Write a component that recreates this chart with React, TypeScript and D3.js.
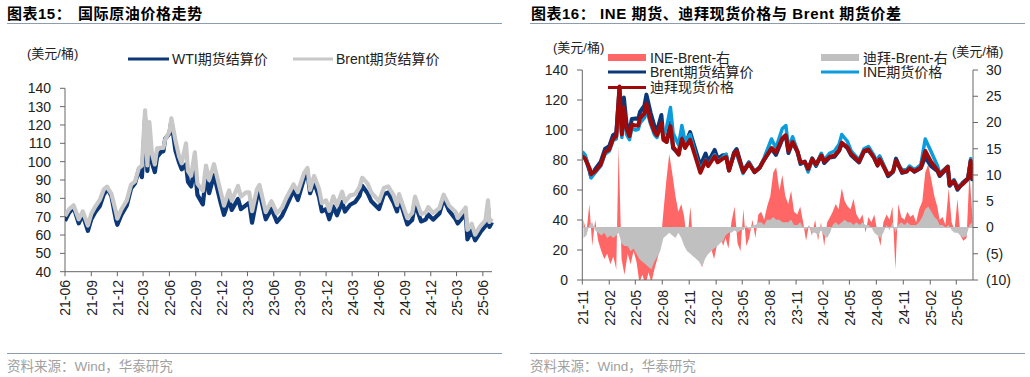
import React from "react";
import * as d3 from "d3";

// ---------- DATA ----------
// Price observation dates (shared by WTI/Brent; INE & Dubai start at 2021-11-01)
const priceDates = [
  "2021-06-01","2021-06-15","2021-07-01","2021-07-19","2021-08-02","2021-08-20","2021-09-01","2021-09-15",
  "2021-10-01","2021-10-15","2021-10-26",
  "2021-11-01","2021-11-10","2021-11-26","2021-12-01","2021-12-15","2022-01-03","2022-01-18","2022-02-01",
  "2022-02-14","2022-02-25","2022-03-08","2022-03-16","2022-03-23","2022-04-01","2022-04-11","2022-04-19",
  "2022-05-02","2022-05-11","2022-05-17","2022-06-01","2022-06-08","2022-06-22","2022-07-05","2022-07-14",
  "2022-07-29","2022-08-05","2022-08-16","2022-08-29","2022-09-07","2022-09-26","2022-10-07","2022-10-18",
  "2022-11-04","2022-11-28","2022-12-09","2022-12-27","2023-01-05","2023-01-27","2023-02-06","2023-02-24",
  "2023-03-07","2023-03-17","2023-04-03","2023-04-12","2023-05-04","2023-05-24","2023-06-12","2023-06-30",
  "2023-07-14","2023-08-09","2023-08-24","2023-09-15","2023-09-27","2023-10-06","2023-10-20","2023-11-06",
  "2023-11-16","2023-12-01","2023-12-12","2023-12-26","2024-01-08","2024-01-26","2024-02-05","2024-02-23",
  "2024-03-11","2024-03-27","2024-04-05","2024-04-24","2024-05-07","2024-06-03","2024-06-20","2024-07-05",
  "2024-07-24","2024-08-05","2024-08-12","2024-09-10","2024-09-27","2024-10-07","2024-10-28","2024-11-13",
  "2024-11-22","2024-12-09","2024-12-31","2025-01-15","2025-02-03","2025-02-26","2025-03-05","2025-04-02",
  "2025-04-08","2025-04-23","2025-05-05","2025-05-23","2025-06-10","2025-06-19","2025-06-24","2025-07-03",
];

const wtiSettle = [
  67.7, 72.1, 75.2, 66.4, 71.3, 62.3, 68.6, 72.6, 75.9, 82.3, 84.6,
  84.1, 81.3, 68.2, 65.6, 70.9, 76.1, 85.4, 88.2, 95.5, 91.6, 123.7, 95.0, 114.9, 99.3, 94.3, 102.6,
  105.2, 105.7, 112.4, 115.3, 122.1, 106.2, 99.5, 95.8, 98.6, 89.0, 86.5, 97.0, 81.9, 76.7, 92.6, 82.8,
  92.6, 77.2, 71.0, 79.5, 73.7, 79.7, 74.1, 76.3, 77.6, 66.7, 80.4, 83.3, 68.6, 74.3, 67.1, 70.6,
  75.4, 84.4, 79.1, 90.8, 93.7, 82.8, 88.8, 80.8, 72.9, 74.1, 68.6, 75.6, 70.8, 78.0, 72.8, 76.5,
  77.9, 81.4, 86.9, 82.8, 78.4, 74.2, 82.2, 83.2, 77.6, 72.9, 80.1, 65.8, 68.2, 77.1, 67.4, 68.4,
  71.2, 68.4, 71.7, 80.0, 73.2, 68.6, 66.3, 71.7, 57.6, 62.3, 57.1, 61.5, 65.0, 75.0, 64.4, 67.0,
];

const brentSettle = [
  70.3, 74.0, 76.2, 68.6, 72.9, 65.2, 71.6, 75.5, 79.3, 84.9, 86.4,
  84.7, 82.6, 72.7, 68.9, 73.9, 78.9, 87.5, 89.2, 96.5, 97.9, 128.0, 98.0, 121.6, 104.4, 98.5, 107.3,
  107.6, 107.5, 112.0, 116.3, 123.6, 111.7, 102.8, 99.1, 110.0, 94.9, 92.3, 105.1, 88.0, 84.1, 97.9, 90.0,
  98.6, 83.2, 76.1, 84.3, 78.7, 86.7, 80.9, 83.2, 83.3, 73.0, 84.9, 87.3, 72.5, 78.4, 71.8, 74.9,
  79.9, 87.6, 83.4, 93.9, 96.6, 84.6, 92.2, 85.2, 77.4, 78.9, 73.2, 81.1, 76.1, 83.6, 78.0, 81.6,
  82.2, 86.1, 91.2, 88.0, 83.2, 78.4, 85.7, 86.5, 81.7, 76.3, 82.3, 69.2, 72.0, 80.9, 71.4, 72.3,
  75.2, 72.1, 74.6, 82.0, 76.0, 72.5, 69.3, 75.0, 62.8, 66.1, 60.2, 64.8, 67.9, 78.9, 67.1, 69.0,
];

// From 2021-11-01 onward (same dates as priceDates from that day)
const ineFutures = [
  85.5, 83.5, 74.0, 68.0, 71.5, 76.0, 84.0, 86.0, 93.0, 94.0, 122.0, 95.0, 112.0, 97.0, 93.5, 101.0,
  100.0, 100.5, 104.5, 108.0, 114.0, 104.0, 97.0, 95.0, 104.0, 96.0, 102.0, 115.0, 98.0, 90.0, 103.0, 92.5,
  97.0, 80.0, 73.5, 80.0, 76.5, 83.5, 79.0, 82.0, 84.0, 73.5, 83.0, 84.0, 71.0, 78.0, 72.5, 75.5,
  81.0, 94.0, 88.0, 101.0, 103.0, 88.0, 95.5, 86.0, 78.5, 78.0, 72.0, 80.0, 76.5, 84.5, 80.0, 84.5,
  86.0, 90.5, 97.0, 92.5, 86.0, 80.0, 87.5, 89.0, 83.0, 78.0, 82.5, 70.5, 72.0, 79.0, 73.5, 73.5,
  76.0, 73.5, 77.0, 94.0, 86.0, 76.0, 71.0, 76.0, 64.5, 67.0, 62.5, 64.0, 67.0, 81.0, 70.0, 70.5,
];

const dubaiSpot = [
  82.5, 81.0, 74.5, 70.5, 72.5, 77.0, 85.5, 87.0, 94.0, 96.0, 129.0, 97.0, 115.0, 101.0, 96.0, 103.5,
  103.0, 103.0, 108.0, 111.0, 117.5, 106.0, 99.0, 96.5, 104.5, 93.5, 92.0, 102.5, 89.0, 83.5, 94.0, 88.0,
  93.5, 78.5, 71.5, 79.5, 76.0, 82.5, 78.5, 81.0, 82.0, 73.0, 84.0, 86.0, 72.0, 77.5, 72.0, 75.0,
  80.0, 88.0, 85.0, 94.5, 96.5, 86.0, 92.0, 85.5, 78.5, 78.5, 74.0, 80.5, 77.0, 83.0, 79.0, 82.0,
  83.0, 86.5, 91.5, 88.5, 84.0, 79.0, 86.0, 87.0, 81.5, 76.5, 80.5, 70.0, 72.5, 79.5, 72.0, 72.5,
  74.5, 72.5, 75.0, 86.0, 79.0, 73.0, 70.0, 75.5, 63.5, 66.0, 61.0, 64.0, 67.5, 79.5, 68.0, 69.5,
];

// Spreads (right axis), sampled on the 5th / 15th / 25th of each month
const spreadMonths = [
  "2021-11","2021-12","2022-01","2022-02","2022-03","2022-04","2022-05","2022-06","2022-07","2022-08","2022-09",
  "2022-10","2022-11","2022-12","2023-01","2023-02","2023-03","2023-04","2023-05","2023-06","2023-07","2023-08",
  "2023-09","2023-10","2023-11","2023-12","2024-01","2024-02","2024-03","2024-04","2024-05","2024-06","2024-07",
  "2024-08","2024-09","2024-10","2024-11","2024-12","2025-01","2025-02","2025-03","2025-04","2025-05","2025-06",
];
const spreadDays = ["05", "15", "25"];

const ineBrentSpread = [
  1.5, -1, 4.5,   -3.5, 1.5, -2.5,   -4.5, -6, -5,   -7, -5.5, -8,   15.5, -6, -9,   -5, -7, -4.5,
  -6.5, -10.5, -9,   -11, -8.5, -10.5,   -8, -6, -4,   3, 9, 14,   10, 6, 3,   4.5, 2, -3,
  4, -3.5, -5,   -6, -7.5, -5.5,   -5, -4, -6,   -3, -1.5, -3.5,   -2, -4, 1,   4, -3, -4.5,
  3.5, -3.5, -2,   1.5, -2, 2.5,   3, 1.5, 4,   6, 10.5, 11.5,   7, 10, 6,   4.5, 7, 3,
  2.5, 4, 1,   -2.5, 0.5, -1.5,   1.5, -2.5, 1,   -3.5, 1, 2,   3, 4.5, 3.5,   7.5, 5, 4,
  3.5, 5.5, 2.5,   1.5, 2.5, -1,   2, 1, 2.5,   -1, -3.5, 1,   2.5, 1.5, 4,   -8, 4.5, 2,
  1.5, 3, 2,   2.5, 1, 3.5,   5, 10.5, 12,   9, 6, 4,   1.5, 2, 0.5,   7.5, 1, -0.5,
  5.5, -1.5, -2.5,   -2, 10.5, 2,
];

const dubaiBrentSpread = [
  -2, -1.5, 0.5,   1, -0.5, -1,   -1.5, -1, -2,   -1.5, -2, -1.5,   -1, -3, -3.5,   -3.5, -4.5, -4,
  -5, -6, -6.5,   -7, -7.5, -8,   -6.5, -5.5, -4.5,   -2, -1.5, -1,   -1.5, -2, -1,   -2, -3.5, -4.5,
  -5, -5.5, -6,   -6.5, -7.5, -6,   -5, -4.5, -4,   -3.5, -3, -2.5,   -1.5, -1, -1,   -0.5, -1, -0.5,
  -0.5, 0.5, -0.5,   0.5, 0.5, 1,   1, 0.5, 1.5,   1.5, 2, 1.5,   1.5, 1, 1,   1, 1.5, 0.5,
  0.5, 1, 0,   -0.5, 0.5, -1,   -1, -1.5, -0.5,   -1.5, -2, -1,   0.5, 1, 0.5,   1, 1.5, 1,
  1, 0.5, 1,   0.5, 1, 0.5,   0.5, 0, -1,   -1.5, -2, -1,   0.5, -0.5, 1,   -1, 0.5, 1,
  0.5, 1, 0.5,   0.5, 0.5, 1,   2, 3.5, 4,   3, 2, 1.5,   0.5, 0.5, 0,   0.5, -0.5, -1,
  -1, -1.5, -2,   -1.5, 0.5, 1,
];

const leftYTicks = [40, 50, 60, 70, 80, 90, 100, 110, 120, 130, 140];
const rightYTicks = [0, 20, 40, 60, 80, 100, 120, 140];
const spreadTicks = [-10, -5, 0, 5, 10, 15, 20, 25, 30];

// ---------- STYLE ----------
const FONT = '"Liberation Sans", Arial, "Noto Sans CJK SC", sans-serif';
const AXIS = "#666666";
const NAVY = "#0c3878";
const LGRAY = "#c8c8c8";
const INE_BLUE = "#0a9cdc";
const DUBAI_RED = "#9e0a0a";
const SPREAD_RED = "#ff6666";
const SPREAD_GRAY = "#c0c0c0";

const parse = d3.timeParse("%Y-%m-%d");
const pd = (s: string) => parse(s) as Date;
const fmt = d3.timeFormat("%y-%m");

export default function App() {
  const dates = priceDates.map(pd);
  const rightIdx = priceDates.indexOf("2021-11-01");
  const rDates = dates.slice(rightIdx);
  const brentR = brentSettle.slice(rightIdx);
  const spreadDates = spreadMonths.flatMap((m) => spreadDays.map((d) => pd(`${m}-${d}`)));

  // Left chart scales
  const xL = d3.scaleTime().domain([pd("2021-06-01"), pd("2025-07-03")]).range([65, 492]);
  const yL = d3.scaleLinear().domain([40, 140]).range([271.7, 88.3]);
  const lineL = d3
    .line<number>()
    .x((_, i) => xL(dates[i]))
    .y((v) => yL(v))
    .curve(d3.curveLinear);
  const leftTicks = d3.timeMonth.range(pd("2021-06-01"), pd("2025-06-02"), 3);

  // Right chart scales
  const xR = d3.scaleTime().domain([pd("2021-11-01"), pd("2025-06-27")]).range([582.3, 973]);
  const yR = d3.scaleLinear().domain([0, 140]).range([280, 70]);
  const yS = d3.scaleLinear().domain([-10, 30]).range([280, 70]);
  const lineR = d3
    .line<number>()
    .x((_, i) => xR(rDates[i]))
    .y((v) => yR(v));
  const areaS = d3
    .area<number>()
    .x((_, i) => xR(spreadDates[i]))
    .y0(yS(0))
    .y1((v) => yS(v));
  const rightTicks = d3.timeMonth.range(pd("2021-11-01"), pd("2025-05-02"), 3);

  return (
    <div style={{ position: "absolute", left: 0, top: 0 }}>
      <svg width={1030} height={377} style={{ display: "block", fontFamily: FONT }}>
        <defs>
          <clipPath id="clipL">
            <rect x={65} y={80} width={430} height={192} />
          </clipPath>
          <clipPath id="clipR">
            <rect x={582.3} y={60} width={390.7} height={220} />
          </clipPath>
        </defs>
        <rect x={0} y={0} width={1030} height={377} fill="#fff" />

        {/* ===== Left panel ===== */}
        <text x={7} y={19} fontSize={15} fontWeight="bold" fill="#000" letterSpacing={0.5}>
          图表15：
        </text>
        <text x={78} y={19} fontSize={15} fontWeight="bold" fill="#000" letterSpacing={0.6}>
          国际原油价格走势
        </text>
        <line x1={7} x2={502} y1={23.5} y2={23.5} stroke="#8e9cb0" strokeWidth={1} />

        <text x={27} y={58} fontSize={13} fill="#222">(美元/桶)</text>
        <line x1={128} x2={169} y1={59} y2={59} stroke={NAVY} strokeWidth={3.2} />
        <text x={172} y={64} fontSize={14} fill="#222">WTI期货结算价</text>
        <line x1={293} x2={333} y1={59} y2={59} stroke={LGRAY} strokeWidth={3.2} />
        <text x={336} y={64} fontSize={14} fill="#222">Brent期货结算价</text>

        {/* axes */}
        <line x1={65} x2={65} y1={yL(140)} y2={yL(40)} stroke={AXIS} />
        {leftYTicks.map((t) => (
          <g key={"ly" + t}>
            <line x1={60} x2={65} y1={yL(t)} y2={yL(t)} stroke={AXIS} />
            <text x={51} y={yL(t)} dy="0.35em" textAnchor="end" fontSize={14} fill="#222">
              {t}
            </text>
          </g>
        ))}
        <line x1={65} x2={492} y1={yL(40)} y2={yL(40)} stroke={AXIS} />
        {leftTicks.map((d) => (
          <g key={"lx" + d.getTime()}>
            <line x1={xL(d)} x2={xL(d)} y1={yL(40)} y2={yL(40) + 4.5} stroke={AXIS} />
            <text
              transform={`translate(${xL(d) + 0.5},${280}) rotate(-90)`}
              textAnchor="end"
              dy="0.35em"
              fontSize={14}
              fill="#222"
            >
              {fmt(d)}
            </text>
          </g>
        ))}

        <g clipPath="url(#clipL)">
          <path d={lineL(wtiSettle) || ""} fill="none" stroke={NAVY} strokeWidth={4.2} strokeLinejoin="round" />
          <path d={lineL(brentSettle) || ""} fill="none" stroke={LGRAY} strokeWidth={4.2} strokeLinejoin="round" />
        </g>

        <line x1={7} x2={502} y1={353.5} y2={353.5} stroke="#8e9cb0" strokeWidth={1} />
        <text x={7} y={371} fontSize={13.5} fill="#a0a0a0">资料来源：Wind，华泰研究</text>

        {/* ===== Right panel ===== */}
        <text x={531} y={19} fontSize={15} fontWeight="bold" fill="#000" letterSpacing={0.5}>
          图表16：
        </text>
        <text x={600} y={19} fontSize={15} fontWeight="bold" fill="#000" letterSpacing={0.6}>
          INE 期货、迪拜现货价格与 Brent 期货价差
        </text>
        <line x1={530} x2={1025} y1={23.5} y2={23.5} stroke="#8e9cb0" strokeWidth={1} />

        <text x={553} y={52} fontSize={13} fill="#222">(美元/桶)</text>
        <text x={952} y={56} fontSize={13} fill="#222">(美元/桶)</text>

        {/* spreads */}
        <g clipPath="url(#clipR)">
          <path d={areaS(ineBrentSpread) || ""} fill={SPREAD_RED} stroke="none" />
          <path d={areaS(dubaiBrentSpread) || ""} fill={SPREAD_GRAY} stroke="none" />
          <line x1={582.3} x2={973} y1={yS(0)} y2={yS(0)} stroke={SPREAD_GRAY} strokeWidth={1} />
          <path d={lineR(brentR) || ""} fill="none" stroke={NAVY} strokeWidth={4} strokeLinejoin="round" />
          <path d={lineR(ineFutures) || ""} fill="none" stroke={INE_BLUE} strokeWidth={3.5} strokeLinejoin="round" />
          <path d={lineR(dubaiSpot) || ""} fill="none" stroke={DUBAI_RED} strokeWidth={4} strokeLinejoin="round" />
        </g>

        {/* legend */}
        <rect x={608} y={54} width={38} height={7} fill={SPREAD_RED} />
        <text x={650} y={62.5} fontSize={14} fill="#222">INE-Brent-右</text>
        <rect x={821} y={54} width={38} height={7} fill={SPREAD_GRAY} />
        <text x={863} y={62.5} fontSize={14} fill="#222">迪拜-Brent-右</text>
        <line x1={608} x2={646} y1={72} y2={72} stroke={NAVY} strokeWidth={3} />
        <text x={650} y={77} fontSize={14} fill="#222">Brent期货结算价</text>
        <line x1={821} x2={859} y1={72} y2={72} stroke={INE_BLUE} strokeWidth={3} />
        <text x={863} y={77} fontSize={14} fill="#222">INE期货价格</text>
        <line x1={608} x2={646} y1={87.5} y2={87.5} stroke={DUBAI_RED} strokeWidth={3} />
        <text x={650} y={92} fontSize={14} fill="#222">迪拜现货价格</text>

        {/* left axis */}
        <line x1={582.3} x2={582.3} y1={70} y2={280} stroke={AXIS} />
        {rightYTicks.map((t) => (
          <g key={"ry" + t}>
            <line x1={577} x2={582.3} y1={yR(t)} y2={yR(t)} stroke={AXIS} />
            <text x={568} y={yR(t)} dy="0.35em" textAnchor="end" fontSize={14} fill="#222">
              {t}
            </text>
          </g>
        ))}
        {/* right axis */}
        <line x1={973} x2={973} y1={70} y2={280} stroke={AXIS} />
        {spreadTicks.map((t) => (
          <g key={"rs" + t}>
            <line x1={973} x2={978} y1={yS(t)} y2={yS(t)} stroke={AXIS} />
            <text x={986} y={yS(t)} dy="0.35em" fontSize={14} fill="#222">
              {t < 0 ? `(${-t})` : `${t}`}
            </text>
          </g>
        ))}
        {/* x axis */}
        <line x1={582.3} x2={973} y1={280} y2={280} stroke={AXIS} />
        {rightTicks.map((d) => (
          <g key={"rx" + d.getTime()}>
            <line x1={xR(d)} x2={xR(d)} y1={280} y2={284.5} stroke={AXIS} />
            <text
              transform={`translate(${xR(d) + 0.5},${290}) rotate(-90)`}
              textAnchor="end"
              dy="0.35em"
              fontSize={14}
              fill="#222"
            >
              {fmt(d)}
            </text>
          </g>
        ))}

        <line x1={530} x2={1025} y1={353.5} y2={353.5} stroke="#8e9cb0" strokeWidth={1} />
        <text x={530} y={371} fontSize={13.5} fill="#a0a0a0">资料来源：Wind，华泰研究</text>
      </svg>
    </div>
  );
}
